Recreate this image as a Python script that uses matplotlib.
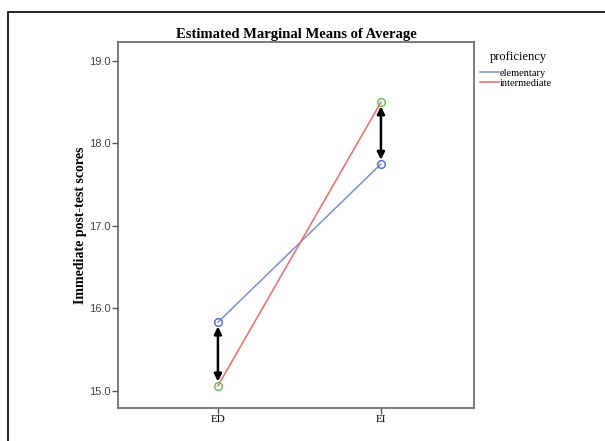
import matplotlib.pyplot as plt
from matplotlib.patches import Rectangle

# data
approach = ['ED', 'EI']
elementary = [15.83, 17.75]
intermediate = [15.06, 18.50]
yticks = [15.0, 16.0, 17.0, 18.0, 19.0]

serif = 'Liberation Serif'
sans = 'Liberation Sans'

fig = plt.figure(figsize=(6.05, 4.41), dpi=100)
fig.patches.append(Rectangle((8 / 605, -0.1), 1.0, 1 - 12 / 441 + 0.1, transform=fig.transFigure,
                             fill=False, edgecolor='black', linewidth=1.2))

ax = fig.add_axes([118 / 605, 1 - 408 / 441, (474 - 118) / 605, (408 - 42) / 441])
x = list(range(len(approach)))

ax.plot(x, elementary, color='#7f8fd0', linewidth=1.1, label='elementary')
ax.plot(x, intermediate, color='#f06a6a', linewidth=1.1, label='intermediate')
ax.plot(x, elementary, 'o', markersize=5.5, markerfacecolor='none', markeredgecolor='#5a72d0', markeredgewidth=1.1)
ax.plot(x, intermediate, 'o', markersize=5.5, markerfacecolor='none', markeredgecolor='#78b868', markeredgewidth=1.1)

# double arrows showing the gap between groups
for i in x:
    ax.annotate('', xy=(i, intermediate[i]), xytext=(i, elementary[i]),
                arrowprops=dict(arrowstyle='<|-|>', color='black', lw=1.8, mutation_scale=11,
                                shrinkA=3, shrinkB=3))

ax.set_xlim(-0.613, 1.571)
ax.set_ylim(14.79, 19.23)
ax.set_xticks(x)
ax.set_xticklabels(approach, fontfamily=serif, fontsize=8)
ax.set_yticks(yticks)
ax.set_yticklabels([f'{v:.1f}' for v in yticks], fontfamily=sans, fontsize=8, color='#444444')
ax.tick_params(length=4, width=1, color='#555555', pad=1)
for s in ax.spines.values():
    s.set_color('#666666')
    s.set_linewidth(1.2)

ax.set_title('Estimated Marginal Means of Average', fontfamily=serif, fontweight='bold', fontsize=10.5, pad=3)
ax.set_ylabel('Immediate post-test scores', fontfamily=serif, fontweight='bold', fontsize=10, labelpad=2)
ax.set_xlabel('Instructional approach', fontfamily=serif, fontweight='bold', fontsize=10, labelpad=14)

leg = ax.legend(loc='upper left', bbox_to_anchor=(1.017, 0.975), frameon=False, title='proficiency',
                prop={'family': serif, 'size': 7.5}, handlelength=1.8, handletextpad=0.1,
                labelspacing=0.05, borderaxespad=0, borderpad=0)
leg.get_title().set_fontfamily(serif)
leg.get_title().set_fontsize(9)
leg.get_title().set_position((10, 0))
leg._legend_box.sep = 4
leg._legend_box.align = 'left'

fig.savefig('out.png', dpi=100)
